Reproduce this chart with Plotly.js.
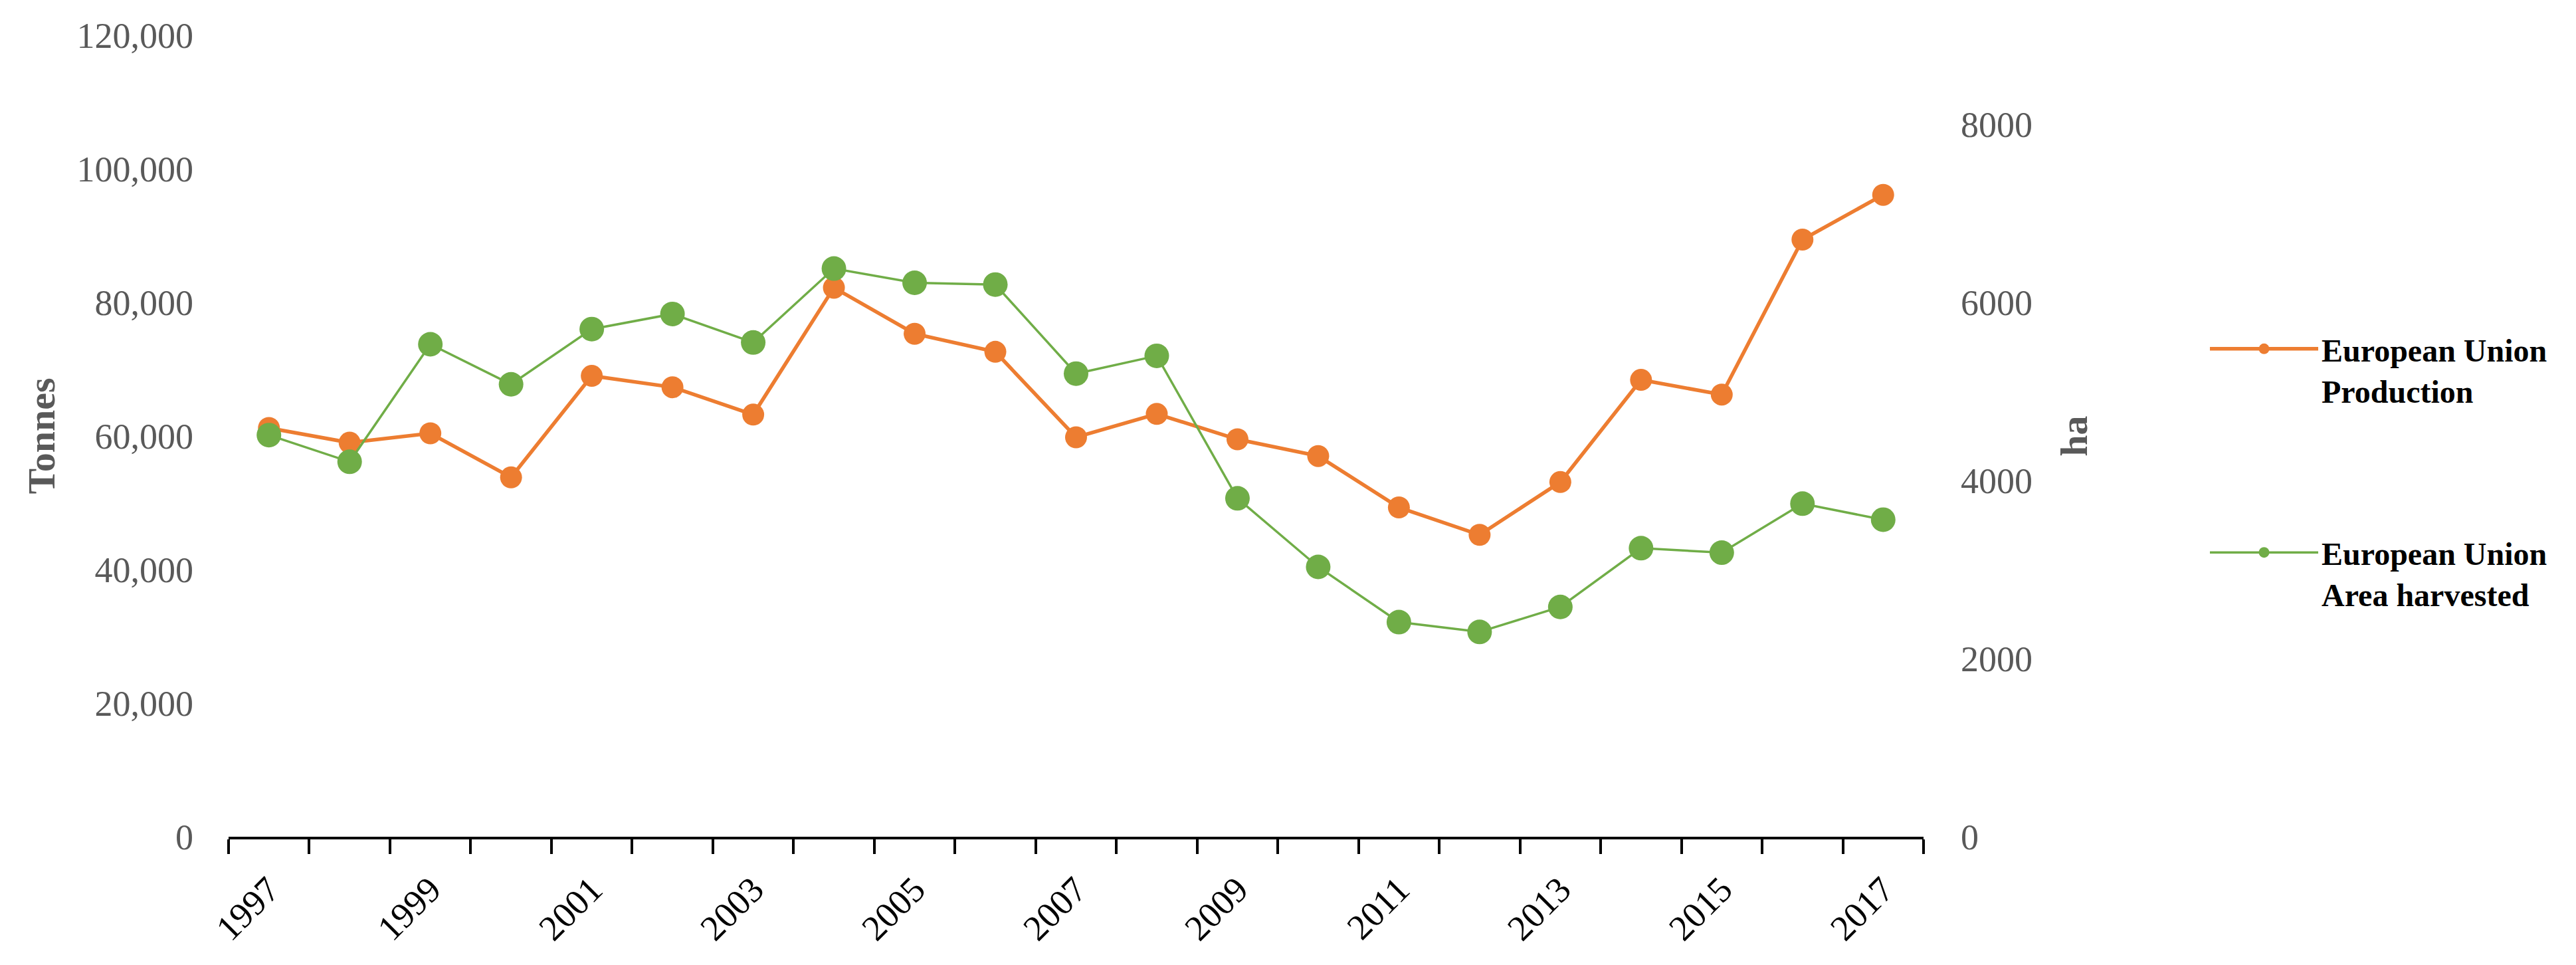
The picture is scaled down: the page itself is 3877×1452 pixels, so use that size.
<!DOCTYPE html>
<html>
<head>
<meta charset="utf-8">
<script src="https://cdn.plot.ly/plotly-3.0.1.min.js"></script>
<style>
  html, body { margin: 0; padding: 0; background: #ffffff; }
  #chart { width: 3877px; height: 1452px; }
</style>
</head>
<body>
<div id="chart"></div>
<script>
const years = [1997, 1998, 1999, 2000, 2001, 2002, 2003, 2004, 2005, 2006, 2007,
               2008, 2009, 2010, 2011, 2012, 2013, 2014, 2015, 2016, 2017];
const productionTonnes = [61200, 59000, 60400, 53800, 69000, 67300, 63200, 82200, 75300, 72600, 59800,
                          63300, 59500, 57000, 49300, 45200, 53100, 68400, 66200, 89400, 96100];
const areaHarvestedHa = [4510, 4210, 5530, 5080, 5700, 5870, 5550, 6380, 6220, 6200, 5200,
                         5400, 3800, 3030, 2410, 2300, 2580, 3240, 3190, 3740, 3560];
const yearLabels = [1997, 1999, 2001, 2003, 2005, 2007, 2009, 2011, 2013, 2015, 2017];
const leftTicks = [0, 20000, 40000, 60000, 80000, 100000, 120000];
const rightTicks = [0, 2000, 4000, 6000, 8000];
const seriesNames = ['European Union<br>Production', 'European Union<br>Area harvested'];

const FONT = 'Liberation Serif, Times New Roman, serif';
const GREY = '#595959';

const traces = [
  {
    type: 'scatter', mode: 'lines+markers',
    x: years, y: productionTonnes, name: seriesNames[0],
    yaxis: 'y', legend: 'legend',
    line: { color: '#ED7D31', width: 5.5 },
    marker: { color: '#ED7D31', size: 33 }
  },
  {
    type: 'scatter', mode: 'lines+markers',
    x: years, y: areaHarvestedHa, name: seriesNames[1],
    yaxis: 'y2', legend: 'legend2',
    line: { color: '#70AD47', width: 3.5 },
    marker: { color: '#70AD47', size: 37 }
  }
];

const legendCommon = {
  xanchor: 'left', yanchor: 'top',
  font: { family: FONT, size: 48, color: '#000000', weight: 'bold' },
  valign: 'top', itemwidth: 163, bgcolor: 'rgba(0,0,0,0)', borderwidth: 0
};

const layout = {
  width: 3877, height: 1452, autosize: false,
  margin: { l: 344, r: 982, t: 53, b: 193, pad: 0 },
  paper_bgcolor: '#ffffff', plot_bgcolor: '#ffffff',
  font: { family: FONT, color: GREY },
  showlegend: true,
  xaxis: {
    type: 'linear', range: [1996.5, 2017.5],
    tickmode: 'array', tickvals: yearLabels, ticktext: yearLabels.map(String),
    ticks: '', tickangle: -45, ticklabelstandoff: 22,
    tickfont: { family: FONT, size: 54, color: '#000000' },
    showline: true, linecolor: '#000000', linewidth: 4,
    showgrid: false, zeroline: false,
    minor: { ticks: 'outside', tick0: 1996.5, dtick: 1, ticklen: 22, tickwidth: 3.5, tickcolor: '#000000', showgrid: false }
  },
  yaxis: {
    range: [0, 120000], tickmode: 'array', tickvals: leftTicks, tickformat: ',d',
    ticks: '', ticklabelstandoff: 52,
    tickfont: { family: FONT, size: 54, color: GREY },
    showline: false, showgrid: false, zeroline: false,
    title: { text: 'Tonnes', font: { family: FONT, size: 58, color: GREY, weight: 'bold' }, standoff: 14 }
  },
  yaxis2: {
    overlaying: 'y', side: 'right',
    range: [0, 9000], tickmode: 'array', tickvals: rightTicks, tickformat: 'd',
    ticks: '', ticklabelstandoff: 55,
    tickfont: { family: FONT, size: 54, color: GREY },
    showline: false, showgrid: false, zeroline: false,
    title: { text: 'ha', font: { family: FONT, size: 58, color: GREY, weight: 'bold' }, standoff: 42 }
  },
  legend: Object.assign({ x: 1.167, y: 0.640 }, legendCommon),
  legend2: Object.assign({ x: 1.167, y: 0.386 }, legendCommon)
};

Plotly.newPlot('chart', traces, layout, { displayModeBar: false, responsive: false });
</script>
</body>
</html>
